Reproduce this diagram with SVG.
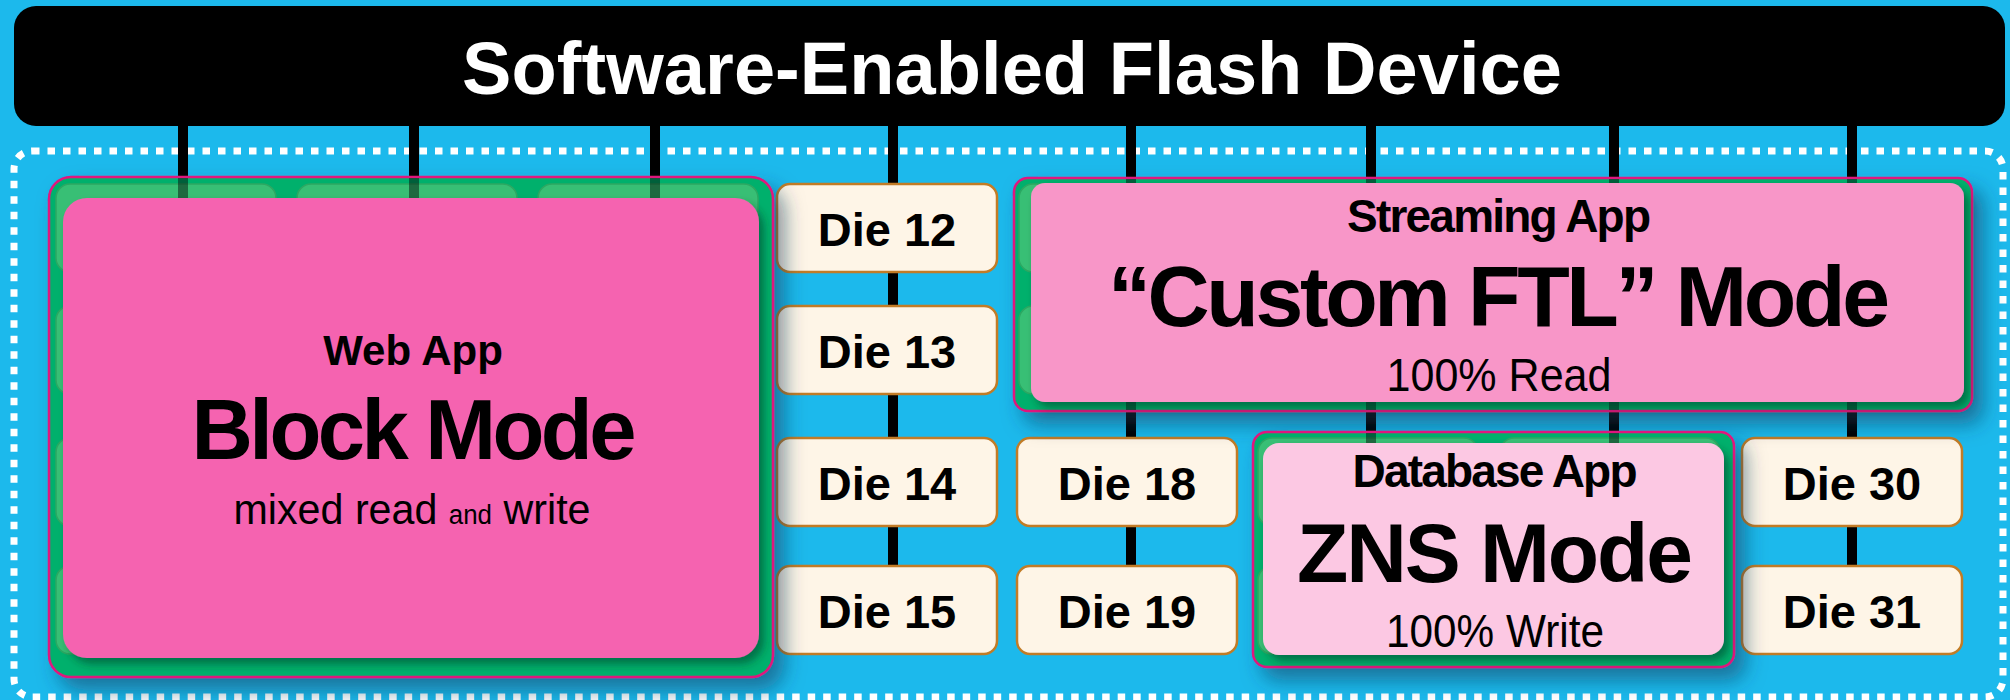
<svg xmlns="http://www.w3.org/2000/svg" width="2010" height="700" viewBox="0 0 2010 700">
<style>
.bus{stroke:#000;stroke-width:10}
.busx{stroke:#000;stroke-width:10;stroke-opacity:.45}
.die{fill:#FEF5E7;stroke:#C27C26;stroke-width:2.5}
.dt{font-family:"Liberation Sans",Arial,sans-serif;font-weight:bold;font-size:47px;text-anchor:middle;fill:#000}
.grn{fill:#06B06C;stroke:#E0157E;stroke-width:2.5}
.tab{fill:#38BF75;stroke:#2CA862;stroke-width:1.5}
.b{font-family:"Liberation Sans",Arial,sans-serif;font-weight:bold;text-anchor:middle;fill:#000}
.r{font-family:"Liberation Sans",Arial,sans-serif;text-anchor:middle;fill:#000}
</style>
<defs>
<filter id="gshadow" x="-10%" y="-10%" width="130%" height="140%">
<feDropShadow dx="10" dy="12" stdDeviation="10" flood-color="#083a5a" flood-opacity="0.55"/>
</filter>
<filter id="pshadow" x="-10%" y="-10%" width="130%" height="130%">
<feDropShadow dx="5" dy="6" stdDeviation="4" flood-color="#00301c" flood-opacity="0.5"/>
</filter>
</defs>
<rect x="0" y="0" width="2010" height="700" fill="#1CB9EC"/>
<rect id="boundary" x="14" y="151" width="1989" height="546" rx="18" fill="none" stroke="#fff" stroke-width="7" stroke-dasharray="7.5 8"/>
<g id="connectors">
<line class="bus" x1="183" y1="120" x2="183" y2="200"/>
<line class="bus" x1="414" y1="120" x2="414" y2="200"/>
<line class="bus" x1="655" y1="120" x2="655" y2="200"/>
<line class="bus" x1="893" y1="120" x2="893" y2="620"/>
<line class="bus" x1="1131" y1="120" x2="1131" y2="620"/>
<line class="bus" x1="1371" y1="120" x2="1371" y2="440"/>
<line class="bus" x1="1614" y1="120" x2="1614" y2="440"/>
<line class="bus" x1="1852" y1="120" x2="1852" y2="620"/>
</g>
<g id="device">
<rect x="14" y="6" width="1991" height="120" rx="22" fill="#000"/>
<text x="1012" y="94" font-family="'Liberation Sans',Arial,sans-serif" font-weight="bold" font-size="74" fill="#fff" text-anchor="middle" textLength="1100">Software-Enabled Flash Device</text>
</g>
<g id="die12"><rect class="die" x="777" y="184" width="220" height="88" rx="13"/><text class="dt" x="887" y="246">Die 12</text></g>
<g id="die13"><rect class="die" x="777" y="306" width="220" height="88" rx="13"/><text class="dt" x="887" y="368">Die 13</text></g>
<g id="die14"><rect class="die" x="777" y="438" width="220" height="88" rx="13"/><text class="dt" x="887" y="500">Die 14</text></g>
<g id="die15"><rect class="die" x="777" y="566" width="220" height="88" rx="13"/><text class="dt" x="887" y="628">Die 15</text></g>
<g id="die18"><rect class="die" x="1017" y="438" width="220" height="88" rx="13"/><text class="dt" x="1127" y="500">Die 18</text></g>
<g id="die19"><rect class="die" x="1017" y="566" width="220" height="88" rx="13"/><text class="dt" x="1127" y="628">Die 19</text></g>
<g id="die30"><rect class="die" x="1742" y="438" width="220" height="88" rx="13"/><text class="dt" x="1852" y="500">Die 30</text></g>
<g id="die31"><rect class="die" x="1742" y="566" width="220" height="88" rx="13"/><text class="dt" x="1852" y="628">Die 31</text></g>
<g id="web-app">
<rect class="grn" x="49" y="177" width="724" height="500" rx="22" filter="url(#gshadow)"/>
<rect class="tab" x="56" y="184" width="220" height="88" rx="14"/>
<rect class="tab" x="297" y="184" width="220" height="88" rx="14"/>
<rect class="tab" x="538" y="184" width="220" height="88" rx="14"/>
<rect class="tab" x="56" y="306" width="220" height="88" rx="14"/>
<rect class="tab" x="56" y="438" width="220" height="88" rx="14"/>
<rect class="tab" x="56" y="566" width="220" height="88" rx="14"/>
<line class="busx" x1="183" y1="178" x2="183" y2="200"/>
<line class="busx" x1="414" y1="178" x2="414" y2="200"/>
<line class="busx" x1="655" y1="178" x2="655" y2="200"/>
<rect x="63" y="198" width="696" height="460" rx="24" fill="#F564B0" filter="url(#pshadow)"/>
<text class="b" x="413" y="365" font-size="42">Web App</text>
<text class="b" x="414" y="459" font-size="85" textLength="445">Block Mode</text>
<text class="r" x="412" y="524" font-size="43" textLength="357" lengthAdjust="spacingAndGlyphs">mixed read <tspan font-size="27">and</tspan> write</text>
</g>
<g id="streaming-app">
<rect class="grn" x="1014" y="178" width="958" height="233" rx="14" filter="url(#gshadow)"/>
<rect class="tab" x="1019" y="184" width="220" height="88" rx="14"/>
<rect class="tab" x="1019" y="306" width="220" height="88" rx="14"/>
<line class="busx" x1="1131" y1="179" x2="1131" y2="410"/>
<line class="busx" x1="1371" y1="179" x2="1371" y2="410"/>
<line class="busx" x1="1614" y1="179" x2="1614" y2="410"/>
<line class="busx" x1="1852" y1="179" x2="1852" y2="410"/>
<rect x="1031" y="183" width="933" height="219" rx="14" fill="#F896C8" filter="url(#pshadow)"/>
<text class="b" x="1499" y="232" font-size="46" textLength="304">Streaming App</text>
<text class="b" x="1499" y="326" font-size="86" textLength="782">“Custom FTL” Mode</text>
<text class="r" x="1499" y="391" font-size="46" textLength="225" lengthAdjust="spacingAndGlyphs">100% Read</text>
</g>
<g id="database-app">
<rect class="grn" x="1253" y="432" width="481" height="235" rx="14" filter="url(#gshadow)"/>
<rect class="tab" x="1258" y="438" width="220" height="88" rx="14"/>
<rect class="tab" x="1500" y="438" width="220" height="88" rx="14"/>
<rect class="tab" x="1258" y="566" width="220" height="88" rx="14"/>
<line class="busx" x1="1371" y1="433" x2="1371" y2="445"/>
<line class="busx" x1="1614" y1="433" x2="1614" y2="445"/>
<rect x="1263" y="443" width="461" height="212" rx="16" fill="#FCC8E3" filter="url(#pshadow)"/>
<text class="b" x="1495" y="487" font-size="46" textLength="285">Database App</text>
<text class="b" x="1495" y="582" font-size="84" textLength="396">ZNS Mode</text>
<text class="r" x="1495" y="647" font-size="46" textLength="218" lengthAdjust="spacingAndGlyphs">100% Write</text>
</g>
</svg>
